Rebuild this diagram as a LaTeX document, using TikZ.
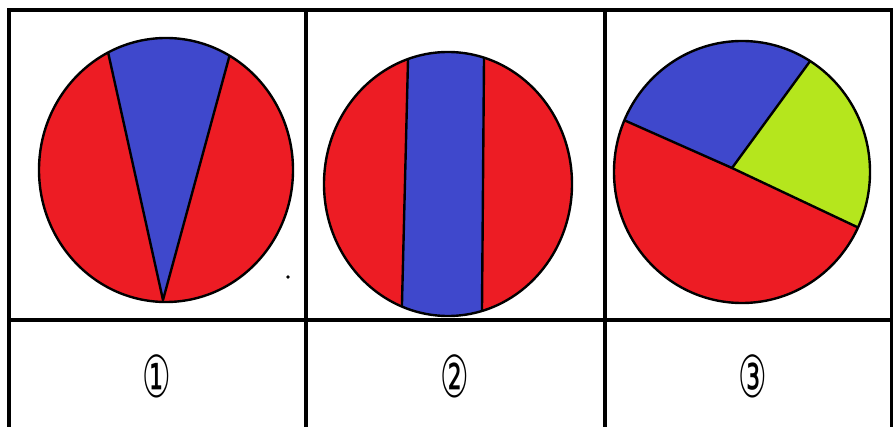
\documentclass[tikz,border=0pt]{standalone}
\usepackage{fontspec}
\newfontfamily\circfont{DejaVu Sans}
\usetikzlibrary{calc}
\definecolor{pred}{HTML}{ED1C24}
\definecolor{pblue}{HTML}{3F48CC}
\definecolor{pgreen}{HTML}{B5E61D}
\begin{document}
\begin{tikzpicture}[x=1pt,y=-1pt,
  grid/.style={line width=3.2pt},
  edge/.style={line width=2.4pt, line join=round},
  lbl/.style={font=\circfont\fontsize{58}{58}\selectfont, inner sep=0pt}]
\useasboundingbox (0,0) rectangle (893,427);
\clip (0,0) rectangle (893,427);
% table
\draw[grid] (9,427) -- (9,10) -- (892,10) -- (892,427);
\draw[grid] (306,10) -- (306,427);
\draw[grid] (605,10) -- (605,427);
\draw[grid] (9,320) -- (892,320);
% circle 1
\coordinate (A1) at (163,300);
\coordinate (B1) at (108,52);
\coordinate (C1) at (230,54);
\fill[pred] (166,170) ellipse [x radius=127, y radius=132];
\begin{scope}
\clip (166,170) ellipse [x radius=127, y radius=132];
\fill[pblue] (A1) -- ($(A1)!1.5!(B1)$) -- ($(A1)!1.5!(C1)$) -- cycle;
\draw[edge] ($(A1)!1.5!(B1)$) -- (A1) -- ($(A1)!1.5!(C1)$);
\end{scope}
\draw[edge] (166,170) ellipse [x radius=127, y radius=132];
\fill (288,277) circle [radius=1.8];
% circle 2
\coordinate (P2) at (408,60);
\coordinate (Q2) at (402,303);
\coordinate (R2) at (484,59);
\coordinate (S2) at (482,308);
\fill[pred] (448,184) ellipse [x radius=124, y radius=132];
\begin{scope}
\clip (448,184) ellipse [x radius=124, y radius=132];
\fill[pblue] ($(Q2)!1.3!(P2)$) -- ($(P2)!1.3!(Q2)$) -- ($(R2)!1.3!(S2)$) -- ($(S2)!1.3!(R2)$) -- cycle;
\draw[edge] ($(Q2)!1.3!(P2)$) -- ($(P2)!1.3!(Q2)$);
\draw[edge] ($(R2)!1.3!(S2)$) -- ($(S2)!1.3!(R2)$);
\end{scope}
\draw[edge] (448,184) ellipse [x radius=124, y radius=132];
% circle 3
\coordinate (O3) at (732,168);
\coordinate (L3) at (626,121);
\coordinate (T3) at (808,64);
\coordinate (D3) at (857,227);
\fill[pred] (742,172) ellipse [x radius=128, y radius=131];
\begin{scope}
\clip (742,172) ellipse [x radius=128, y radius=131];
\fill[pblue] (O3) -- ($(O3)!2!(L3)$) -- (600,20) -- (820,20) -- ($(O3)!2!(T3)$) -- cycle;
\fill[pgreen] (O3) -- ($(O3)!2!(T3)$) -- (890,40) -- ($(O3)!2!(D3)$) -- cycle;
\draw[edge] ($(O3)!2!(L3)$) -- (O3) -- ($(O3)!2!(T3)$);
\draw[edge] (O3) -- ($(O3)!2!(D3)$);
\end{scope}
\draw[edge] (742,172) ellipse [x radius=128, y radius=131];
% labels
\node[lbl] (n1) at (157,376) {\scalebox{0.55}[1]{①}};
\node[lbl] (n2) at (455,376) {\scalebox{0.55}[1]{②}};
\node[lbl] (n3) at (753,376) {\scalebox{0.55}[1]{③}};
\end{tikzpicture}
\end{document}
